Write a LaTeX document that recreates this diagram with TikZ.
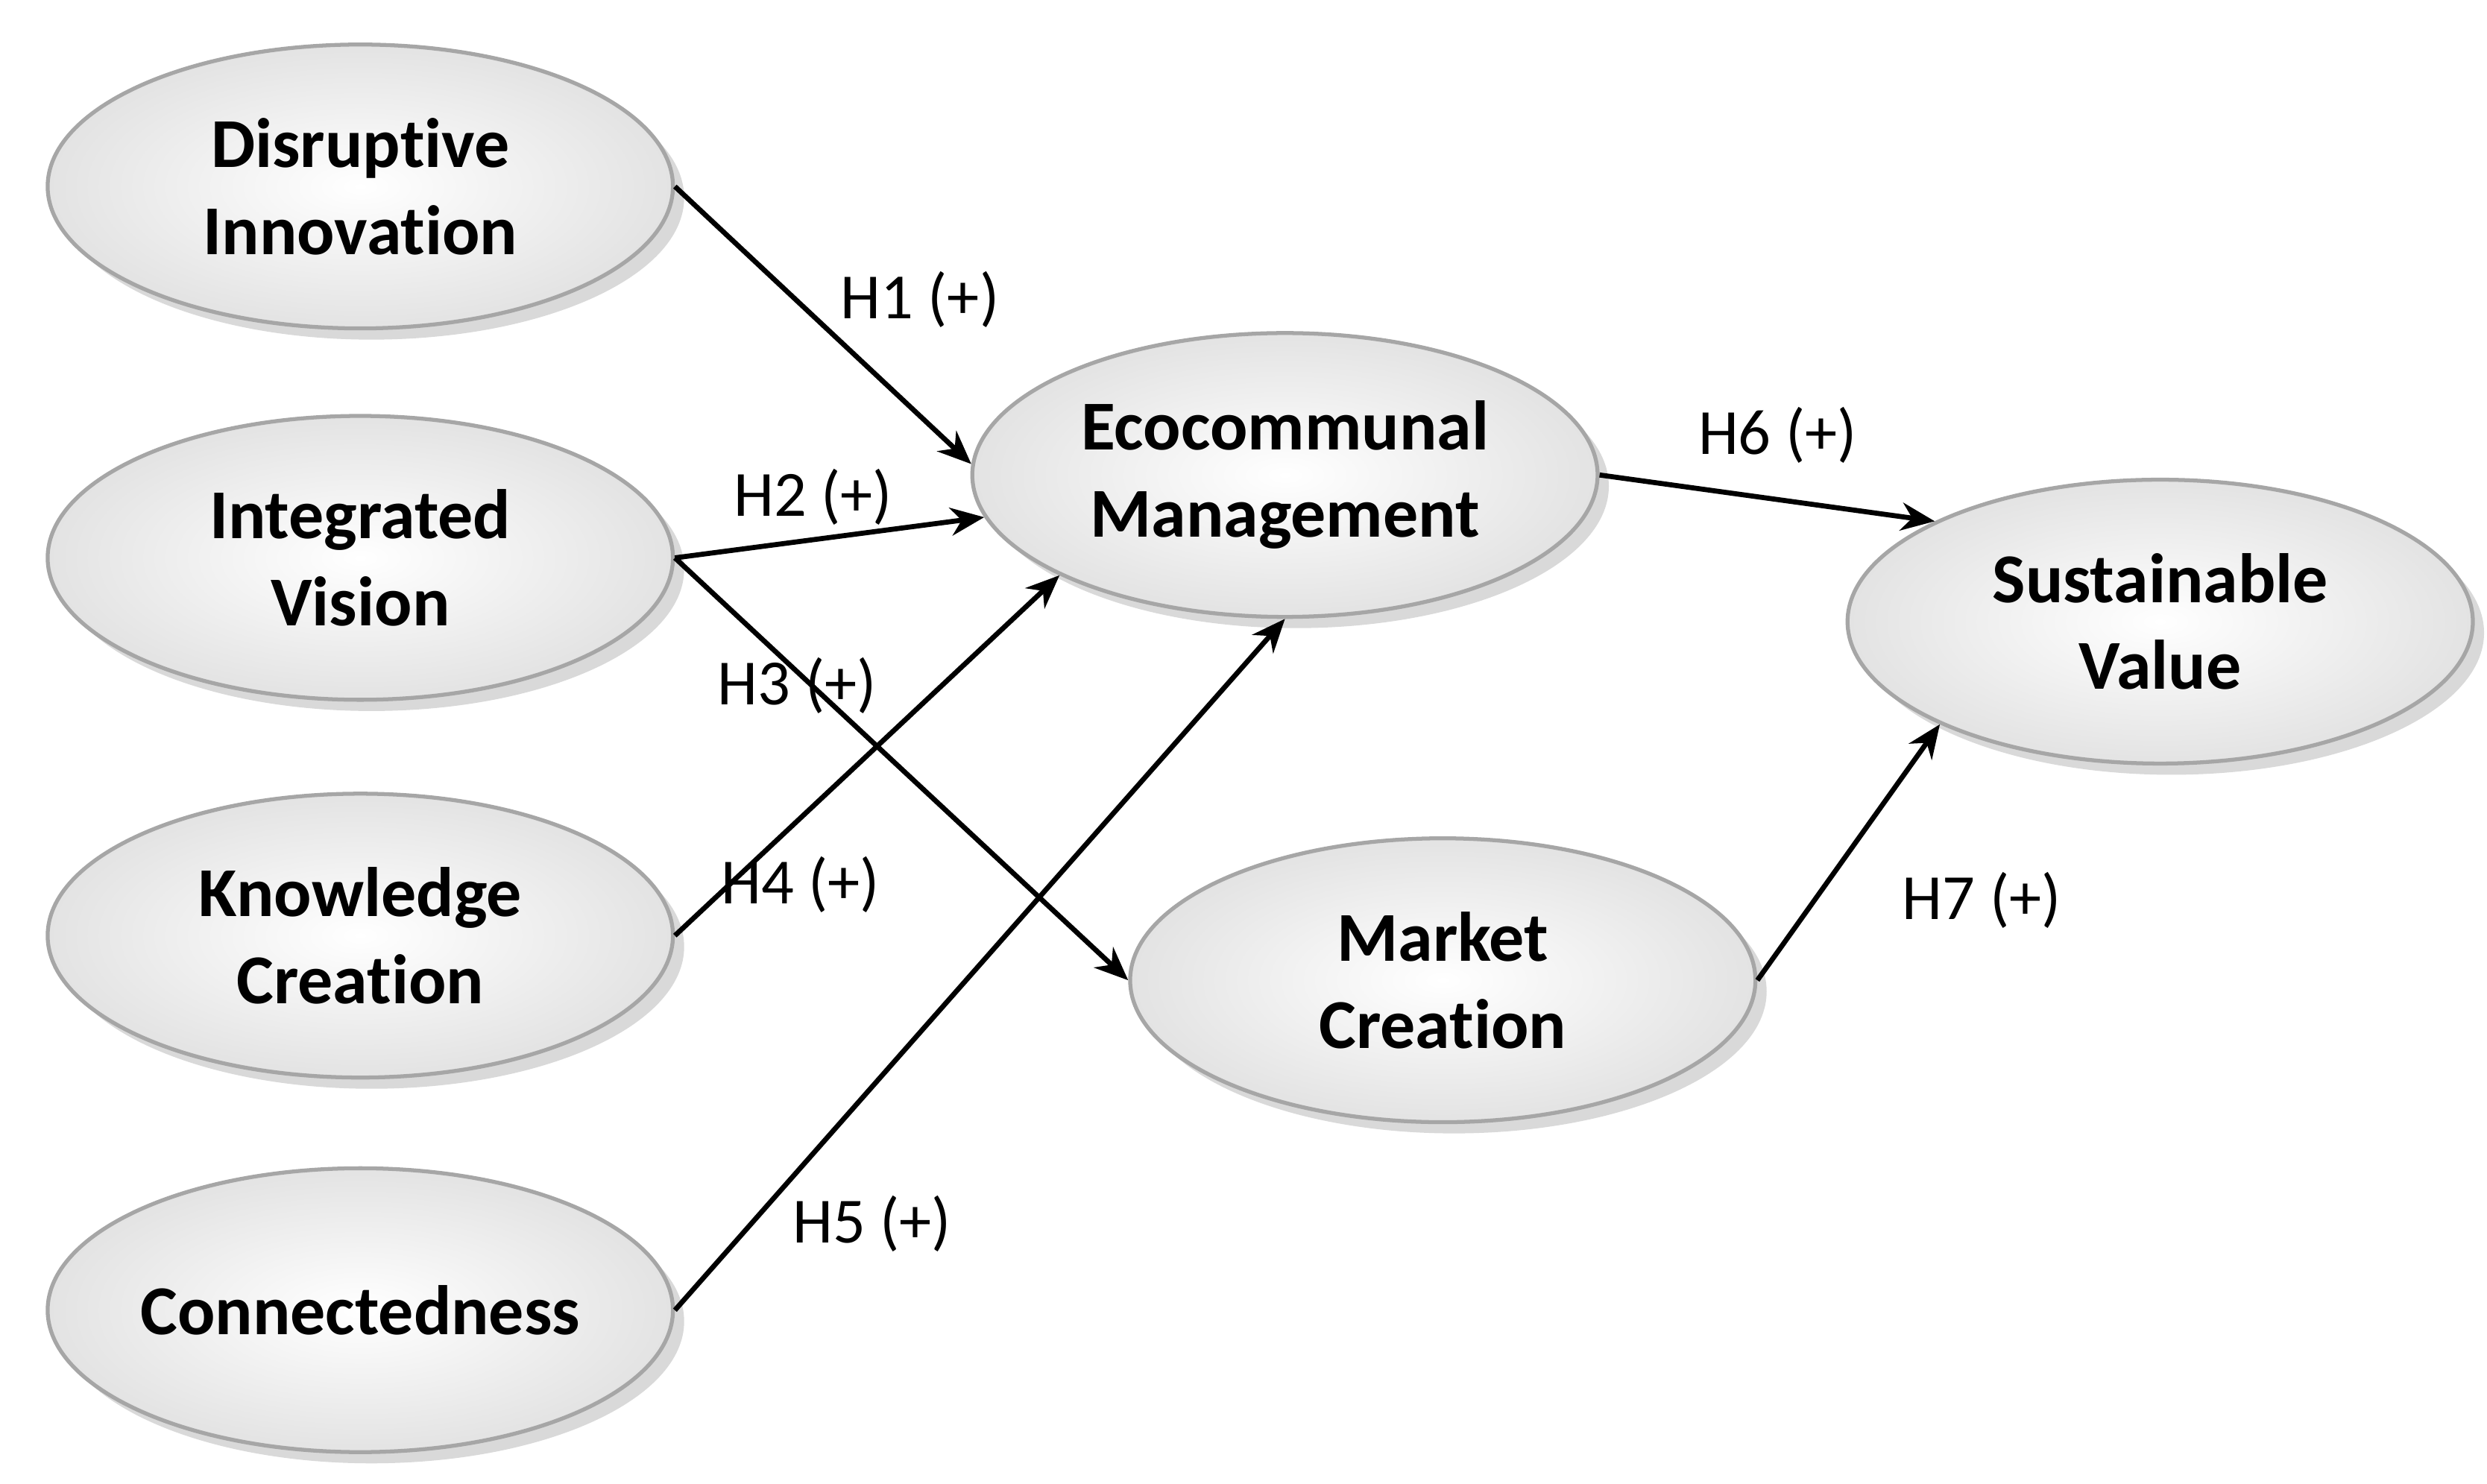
\documentclass[tikz,border=0pt]{standalone}
\usepackage{fontspec}
\setmainfont{Carlito}[Ligatures={NoCommon,NoRare,NoDiscretionary}]
\usetikzlibrary{shapes.geometric,shadows,arrows.meta}
\begin{document}
\begin{tikzpicture}[x=0.01cm,y=-0.01cm,
  ell/.style={ellipse,draw=gray!70,line width=0.7pt,minimum width=3.92cm,minimum height=1.78cm,inner sep=0pt,
    inner color=white,outer color=gray!22,drop shadow={opacity=0.3,shadow xshift=2pt,shadow yshift=-2pt},
    align=center,font=\fontsize{12.5}{15.5}\selectfont\bfseries},
  arr/.style={-{Stealth[length=6pt,width=5pt]},line width=0.9pt},
  lab/.style={font=\fontsize{11.5}{14}\selectfont}]
\useasboundingbox (0,0) rectangle (1560,931);
\node[ell] (di) at (226,117) {Disruptive\\Innovation};
\node[ell] (iv) at (226,350) {Integrated\\Vision};
\node[ell] (kc) at (226,587) {Knowledge\\Creation};
\node[ell] (cn) at (226,822) {Connectedness};
\node[ell] (em) at (806,298) {Ecocommunal\\Management};
\node[ell] (mc) at (905,615) {Market\\Creation};
\node[ell] (sv) at (1355,390) {Sustainable\\Value};
\draw[arr] (di.east) -- (em.178);
\draw[arr] (iv.east) -- (em.188);
\draw[arr] (iv.east) -- (mc.west);
\draw[arr] (kc.east) -- (em.204);
\draw[arr] (cn.east) -- (em.south);
\draw[arr] (em.east) -- (sv.156);
\draw[arr] (mc.east) -- (sv.205);
\node[lab] (h1) at (577,188) {H1 (+)};
\node[lab] (h2) at (510,312) {H2 (+)};
\node[lab] (h3) at (500,430) {H3 (+)};
\node[lab] (h4) at (502,555) {H4 (+)};
\node[lab] (h5) at (547,768) {H5 (+)};
\node[lab] (h6) at (1115,273) {H6 (+)};
\node[lab] (h7) at (1243,565) {H7 (+)};
\end{tikzpicture}
\end{document}
